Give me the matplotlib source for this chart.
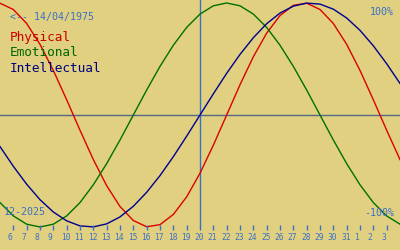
import matplotlib
matplotlib.use('Agg')
import matplotlib.pyplot as plt

# days shown (Dec 5 2025 .. Jan 4 2026), value in -1..1
days = list(range(5, 36))
tick_days = list(range(6, 35))
tick_labels = [str(d) for d in range(6, 32)] + ['1', '2', '3']

physical = [0.998, 0.942, 0.817, 0.631, 0.398, 0.136, -0.136, -0.398, -0.631, -0.817,
            -0.942, -0.998, -0.979, -0.888, -0.731, -0.520, -0.270, 0.0, 0.270, 0.520,
            0.731, 0.888, 0.979, 0.998, 0.942, 0.817, 0.631, 0.398, 0.136, -0.136, -0.398]
emotional = [-0.782, -0.901, -0.975, -1.0, -0.975, -0.901, -0.782, -0.623, -0.434, -0.223,
             0.0, 0.223, 0.434, 0.623, 0.782, 0.901, 0.975, 1.0, 0.975, 0.901,
             0.782, 0.623, 0.434, 0.223, 0.0, -0.223, -0.434, -0.623, -0.782, -0.901, -0.975]
intellectual = [-0.282, -0.458, -0.618, -0.756, -0.866, -0.945, -0.990, -0.999, -0.972, -0.910,
                -0.815, -0.690, -0.541, -0.372, -0.189, 0.0, 0.189, 0.372, 0.541, 0.690,
                0.815, 0.910, 0.972, 0.999, 0.990, 0.945, 0.866, 0.756, 0.618, 0.458, 0.282]

today = 20
birth = '<-- 14/04/1975'
month = '12-2025'

bg = '#e0d080'
blue = '#3a70c8'
mono = 'DejaVu Sans Mono'

fig = plt.figure(figsize=(4, 2.5), dpi=100, facecolor=bg)
ax = fig.add_axes([0, 0, 1, 1])
ax.set_facecolor(bg)
ax.set_xlim(5, 35)
ax.set_ylim(-135 / 112, 115 / 112)
ax.axis('off')

ax.axhline(0, color='#56698a', lw=1)
ax.vlines(today, -1.03, 1.1, color=blue, lw=1)

ax.plot(days, physical, color='#dd0000', lw=1)
ax.plot(days, emotional, color='#007000', lw=1)
ax.plot(days, intellectual, color='#000090', lw=1)

# day ticks along the bottom
for d, lab in zip(tick_days, tick_labels):
    if d != today:
        ax.vlines(d, -1.027, -0.982, color=blue, lw=1)
    ax.text(d - 0.42, -1.098, lab, color=blue, fontsize=5.7, family=mono,
            ha='left', va='center')

ax.text(0.025, 0.933, birth, transform=ax.transAxes, color=blue, fontsize=7.2,
        family=mono, va='center')
ax.text(0.025, 0.848, 'Physical', transform=ax.transAxes, color='#cc0000', fontsize=9.2,
        family=mono, va='center')
ax.text(0.025, 0.788, 'Emotional', transform=ax.transAxes, color='#006600', fontsize=9.2,
        family=mono, va='center')
ax.text(0.025, 0.728, 'Intellectual', transform=ax.transAxes, color='#000080', fontsize=9.2,
        family=mono, va='center')
ax.text(0.985, 0.952, '100%', transform=ax.transAxes, color=blue, fontsize=7.2,
        family=mono, ha='right', va='center')
ax.text(0.985, 0.149, '-100%', transform=ax.transAxes, color=blue, fontsize=7.2,
        family=mono, ha='right', va='center')
ax.text(0.01, 0.152, month, transform=ax.transAxes, color=blue, fontsize=7.2,
        family=mono, ha='left', va='center')

fig.savefig('out.png', dpi=100, facecolor=bg)
